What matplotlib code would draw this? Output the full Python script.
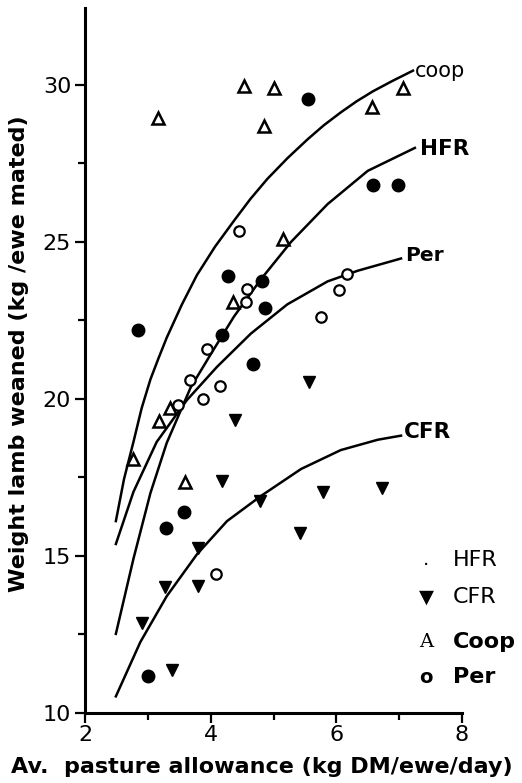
import matplotlib.pyplot as plt
from matplotlib.ticker import MultipleLocator

# scatter data
coop_x = [3.16, 4.53, 5.01, 4.85, 6.57, 7.06, 5.15, 4.36, 3.35, 3.17, 2.77, 3.59]
coop_y = [28.95, 29.95, 29.9, 28.7, 29.3, 29.9, 25.1, 23.1, 19.7, 19.3, 18.1, 17.35]

hfr_x = [5.55, 6.59, 6.98, 2.84, 4.28, 4.82, 4.87, 4.18, 4.67, 3.58, 3.29, 3.0]
hfr_y = [29.55, 26.8, 26.8, 22.2, 23.9, 23.75, 22.9, 22.05, 21.1, 16.4, 15.9, 11.18]

per_x = [4.45, 4.58, 4.56, 3.94, 3.67, 4.15, 3.87, 3.48, 6.17, 6.04, 5.76, 4.09]
per_y = [25.35, 23.5, 23.1, 21.6, 20.6, 20.4, 20.0, 19.8, 23.98, 23.47, 22.6, 14.43]

cfr_x = [4.39, 5.57, 4.18, 4.79, 3.8, 3.27, 3.8, 2.9, 3.39, 5.79, 6.73, 5.42]
cfr_y = [19.33, 20.54, 17.4, 16.75, 15.25, 14.0, 14.05, 12.87, 11.37, 17.04, 17.17, 15.73]

# fitted curves, points
coop_cx = [2.49, 2.62, 2.77, 2.9, 3.04, 3.17, 3.30, 3.54, 3.78, 4.07, 4.37, 4.63, 4.90, 5.22, 5.54, 5.8, 6.07, 6.32, 6.58, 6.9, 7.22]
coop_cy = [16.11, 17.45, 18.63, 19.7, 20.62, 21.3, 21.95, 23.0, 23.94, 24.85, 25.67, 26.36, 27.0, 27.66, 28.26, 28.71, 29.12, 29.47, 29.79, 30.13, 30.45]

hfr_cx = [2.49, 2.77, 3.04, 3.30, 3.68, 4.0, 4.37, 4.80, 5.28, 5.86, 6.50, 7.25]
hfr_cy = [12.52, 14.91, 17.0, 18.6, 20.36, 21.42, 22.62, 23.81, 25.0, 26.2, 27.26, 27.99]

per_cx = [2.49, 2.77, 3.14, 3.62, 4.10, 4.64, 5.22, 5.86, 6.34, 7.03]
per_cy = [15.38, 17.04, 18.63, 19.96, 21.02, 22.08, 23.01, 23.74, 24.08, 24.47]

cfr_cx = [2.49, 2.88, 3.30, 3.78, 4.26, 4.80, 5.44, 6.07, 6.66, 7.03]
cfr_cy = [10.53, 12.26, 13.72, 15.05, 16.11, 16.91, 17.77, 18.37, 18.70, 18.83]

x_ticks = [2, 4, 6, 8]
y_ticks = [10, 15, 20, 25, 30]

plt.rcParams['font.family'] = ['DejaVu Sans']

fig = plt.figure(figsize=(5.22, 7.83), dpi=100)
ax = fig.add_axes([0.163, 0.0894, 0.722, 0.9006])

lw = 1.8
ax.plot(coop_cx, coop_cy, color='black', lw=lw)
ax.plot(hfr_cx, hfr_cy, color='black', lw=lw)
ax.plot(per_cx, per_cy, color='black', lw=lw)
ax.plot(cfr_cx, cfr_cy, color='black', lw=lw)

ax.plot(coop_x, coop_y, ls='none', marker='^', ms=8, mfc='white', mec='black', mew=1.8)
ax.plot(hfr_x, hfr_y, ls='none', marker='o', ms=9, mfc='black', mec='black')
ax.plot(per_x, per_y, ls='none', marker='o', ms=7.5, mfc='white', mec='black', mew=1.6)
ax.plot(cfr_x, cfr_y, ls='none', marker='v', ms=9, mfc='black', mec='black')

# curve labels
ax.text(7.25, 30.45, 'coop', fontsize=15, va='center', ha='left')
ax.text(7.33, 27.95, 'HFR', fontsize=15.5, fontweight='bold', va='center', ha='left')
ax.text(7.1, 24.55, 'Per', fontsize=14.5, fontweight='bold', va='center', ha='left')
ax.text(7.07, 18.95, 'CFR', fontsize=15.5, fontweight='bold', va='center', ha='left')

# key in the lower right
keys = [('.', 'HFR', 'normal'), ('\u25bc', 'CFR', 'normal'), ('A', 'Coop', 'bold'), ('o', 'Per', 'bold')]
key_y = [0.217, 0.1645, 0.1007, 0.051]
for (sym, lab, wt), ky in zip(keys, key_y):
    fam = 'DejaVu Serif' if sym == 'A' else 'DejaVu Sans'
    ax.text(0.905, ky, sym, transform=ax.transAxes, fontsize=14, family=fam,
            fontweight='bold' if sym == 'o' else 'normal', ha='center', va='center')
    ax.text(0.975, ky, lab, transform=ax.transAxes, fontsize=16, fontweight=wt,
            ha='left', va='center', clip_on=False)

ax.set_xlim(2, 8)
ax.set_ylim(10, 32.45)
ax.set_xticks(x_ticks)
ax.set_yticks(y_ticks)
ax.xaxis.set_minor_locator(MultipleLocator(1))
ax.yaxis.set_minor_locator(MultipleLocator(2.5))
ax.tick_params(which='major', length=7, width=1.6, labelsize=16, direction='out')
ax.tick_params(which='minor', length=5, width=1.6, direction='out')
ax.tick_params(axis='x', pad=2)
ax.tick_params(axis='y', pad=3)

for s in ['top', 'right']:
    ax.spines[s].set_visible(False)
for s in ['left', 'bottom']:
    ax.spines[s].set_linewidth(2.2)

ax.set_ylabel('Weight lamb weaned (kg /ewe mated)', fontsize=16, fontweight='bold')
ax.set_xlabel('Av.  pasture allowance (kg DM/ewe/day)', fontsize=16, fontweight='bold')
ax.yaxis.set_label_coords(-0.15, 0.509)
ax.xaxis.set_label_coords(0.47, -0.062)

fig.savefig('out.png', dpi=100)
